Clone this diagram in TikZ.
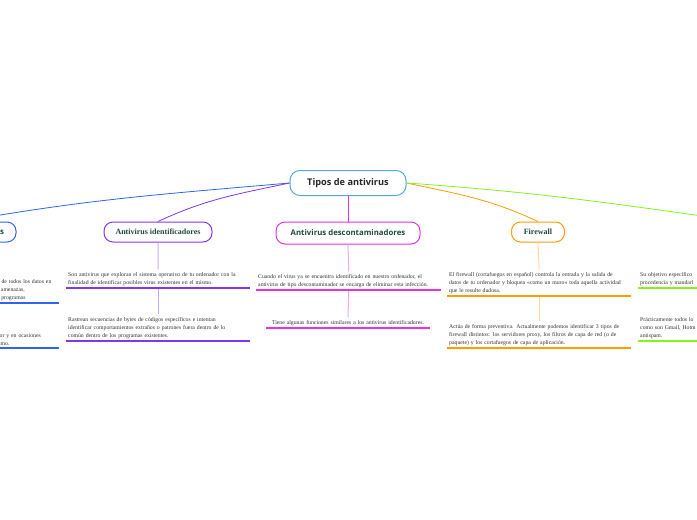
\documentclass[tikz,border=0pt]{standalone}
\usepackage{fontspec}
\setmainfont{Liberation Serif}
\setsansfont{Open Sans}
\definecolor{RootBlue}{HTML}{5AA7DE}
\definecolor{LineBlue}{HTML}{2F64F0}
\definecolor{LinePurple}{HTML}{8236F5}
\definecolor{SoftPurple}{HTML}{CBA9FA}
\definecolor{LineMagenta}{HTML}{E632E6}
\definecolor{SoftMagenta}{HTML}{F5A6F5}
\definecolor{LineOrange}{HTML}{FF9C00}
\definecolor{SoftOrange}{HTML}{FFD8A0}
\definecolor{LineGreen}{HTML}{84F41C}
\definecolor{TitleGreen}{HTML}{1F4B3B}
\definecolor{BodyGray}{HTML}{333333}
\begin{document}
\begin{tikzpicture}[
  x=1pt, y=-1pt,
  root/.style={draw=RootBlue, line width=1pt, rounded corners=10pt, fill=white, minimum width=116pt, minimum height=25pt, font=\sffamily\bfseries\fontsize{9.2}{11}\selectfont, text=black!85},
  topic/.style={draw, line width=1pt, rounded corners=9pt, fill=white, minimum height=20pt, text=TitleGreen},
  sertopic/.style={topic, font=\bfseries\fontsize{8}{9}\selectfont},
  santopic/.style={topic, font=\sffamily\bfseries\fontsize{7.8}{9}\selectfont},
  note/.style={font=\fontsize{5.75}{8}\selectfont, text=BodyGray, align=left, text width=180pt, inner xsep=2pt, inner ysep=2.5pt},
  link/.style={line width=0.8pt},
  stem/.style={line width=1pt},
  uline/.style={line width=1.6pt}
]
\useasboundingbox (0,0) rectangle (697,520);
\fill[white] (0,0) rectangle (697,520);
\clip (0,0) rectangle (697,520);
\node[root] (root) at (348,183) {Tipos de antivirus};
\node[santopic, draw=LineBlue, text width=84pt, align=right, inner xsep=12pt] (prev) at (-38,232) {s};
\node[sertopic, draw=LinePurple, minimum width=108pt] (ident) at (158,232) {Antivirus identificadores};
\node[santopic, draw=LineMagenta, minimum width=144pt, minimum height=22pt] (desc) at (348,233) {Antivirus descontaminadores};
\node[sertopic, draw=LineOrange, minimum width=53pt] (fire) at (538,232) {Firewall};
\coordinate (anti) at (745,222);
\node[note, anchor=south east, text width=60pt] (p1) at (59,303) {n de todos los datos en\\ s amenazas,\\ e programas};
\node[note, anchor=south east, text width=60pt] (p2) at (59,348) {dor y en ocasiones\\ ismo.};
\node[note, anchor=south west] (i1) at (66,288) {Son antivirus que exploran el sistema operativo de tu ordenador con la\\ finalidad de identificar posibles virus existentes en el mismo.};
\node[note, anchor=south west] (i2) at (66,341) {Rastrean secuencias de bytes de códigos específicos e intentan\\ identificar comportamientos extraños o patrones fuera dentro de lo\\ común dentro de los programas existentes.};
\node[note, anchor=south west, text width=181pt] (d1) at (256,290) {Cuando el virus ya se encuentra identificado en nuestro ordenador, el\\ antivirus de tipo descontaminador se encarga de eliminar esta infección.};
\node[note, anchor=south, text width=160pt, align=center] (d2) at (348,328) {Tiene algunas funciones similares a los antivirus identificadores.};
\node[note, anchor=south west] (f1) at (447,296) {El firewall (cortafuegos en español) controla la entrada y la salida de\\ datos de tu ordenador y bloquea «como un muro» toda aquella actividad\\ que le resulte dudosa.};
\node[note, anchor=south west] (f2) at (447,348) {Actúa de forma preventiva. Actualmente podemos identificar 3 tipos de\\ firewall distintos: los servidores proxy, los filtros de capa de red (o de\\ paquete) y los cortafuegos de capa de aplicación.};
\node[note, anchor=south west] (a1) at (638,288) {Su objetivo específico\\ procedencia y mandarl};
\node[note, anchor=south west] (a2) at (638,341) {Prácticamente todos lo\\ como son Gmail, Hotm\\ antispam.};
\draw[link, LineBlue] (root.west) to[out=185,in=10] (prev.north);
\draw[link, LinePurple] (root.west) to[out=192,in=25] (ident.north);
\draw[link, LineMagenta] (root.south) -- (desc.north);
\draw[link, LineOrange] (root.east) to[out=-12,in=155] (fire.north);
\draw[link, LineGreen] (root.east) to[out=-4,in=172] (anti);
\draw[stem, SoftPurple] (ident.south) -- (i1.north);
\draw[stem, SoftPurple] (i1.south) -- (i2.north);
\draw[stem, SoftMagenta] (desc.south) -- (d1.north);
\draw[stem, SoftMagenta] (d1.south) -- (d2.north);
\draw[stem, SoftOrange] (fire.south) -- (f1.north);
\draw[stem, SoftOrange] (f1.south) -- (f2.north);
\draw[uline, LineBlue] (p1.south west) -- (p1.south east);
\draw[uline, LineBlue] (p2.south west) -- (p2.south east);
\draw[uline, LinePurple] (i1.south west) -- (i1.south east);
\draw[uline, LinePurple] (i2.south west) -- (i2.south east);
\draw[uline, LineMagenta] (d1.south west) -- (d1.south east);
\draw[uline, LineMagenta] (d2.south west) -- (d2.south east);
\draw[uline, LineOrange] (f1.south west) -- (f1.south east);
\draw[uline, LineOrange] (f2.south west) -- (f2.south east);
\draw[uline, LineGreen] (a1.south west) -- (a1.south east);
\draw[uline, LineGreen] (a2.south west) -- (a2.south east);
\end{tikzpicture}
\end{document}
